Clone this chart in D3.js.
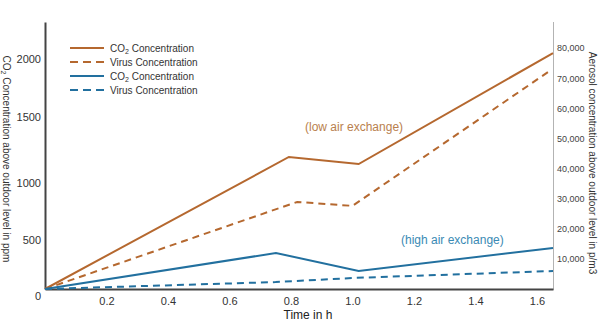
<!DOCTYPE html>
<html><head><meta charset="utf-8">
<script src="https://cdn.jsdelivr.net/npm/d3@7"></script>
<style>body{margin:0;background:#fff;} text{font-family:Arial,"Liberation Sans",sans-serif;}</style>
</head><body>
<svg id="c" width="605" height="323"></svg>
<script>
// data
const xTicks = [0.2,0.4,0.6,0.8,1.0,1.2,1.4,1.6];
const leftTicks = [0,500,1000,1500,2000];
const rightTicks = [10000,20000,30000,40000,50000,60000,70000,80000];
const lowCO2T = [0, 0.793, 1.02, 1.652];
const lowCO2V = [0, 1148, 1087, 2052];
const lowVirusT = [0, 0.82, 1.0, 1.64];
const lowVirusV = [0, 28900, 27600, 72300];
const highCO2T = [0, 0.751, 1.02, 1.652];
const highCO2V = [0, 313, 157, 357];
const highVirusT = [0, 0.75, 1.0, 1.652];
const highVirusV = [0, 2300, 3650, 5975];
const legendLabels = ["CO₂ Concentration","Virus Concentration","CO₂ Concentration","Virus Concentration"];

const ORANGE = "#b5682f", BLUE = "#22709f";
const svg = d3.select("#c");
const x = d3.scaleLinear().domain([0,1.652]).range([45,553]);
const yL = d3.scaleLinear().domain([0,2322]).range([289,22]);
const yR = d3.scaleLinear().domain([0,88630]).range([289,22]);

// axes
const gx = svg.append("g").attr("transform","translate(0,289)")
  .call(d3.axisBottom(x).tickValues(xTicks).tickFormat(d3.format(".1f")).tickSize(0).tickPadding(8));
gx.select(".domain").attr("stroke","#444").attr("stroke-width",2);
gx.selectAll("text").attr("font-size",11).attr("fill","#333");

const gl = svg.append("g").attr("transform","translate(45,0)")
  .call(d3.axisLeft(yL).tickValues(leftTicks).tickFormat(d3.format("d")).tickSize(0).tickPadding(4));
gl.select(".domain").attr("stroke","#444").attr("stroke-width",2);
gl.selectAll("text").attr("font-size",11).attr("fill","#333").attr("dy", (d)=> d===0 ? "0.95em" : (d===500||d===1000 ? "1.1em":"0.32em"));

const gr = svg.append("g").attr("transform","translate(553,0)")
  .call(d3.axisRight(yR).tickValues(rightTicks).tickFormat(d3.format(",")).tickSize(0).tickPadding(4));
gr.select(".domain").attr("stroke","#666").attr("stroke-width",1).attr("stroke-dasharray","1,1");
gr.selectAll("text").attr("font-size",9).attr("fill","#444");

// titles
svg.append("text").attr("x",308).attr("y",319).attr("text-anchor","middle")
  .attr("font-size",12).attr("fill","#222").text("Time in h");
const lt = svg.append("text").attr("transform","translate(3,159) rotate(90)")
  .attr("text-anchor","middle").attr("font-size",10).attr("fill","#333");
lt.append("tspan").text("CO");
lt.append("tspan").attr("font-size",7).attr("dy",2).text("2");
lt.append("tspan").attr("dy",-2).text(" Concentration above  outdoor level in ppm");
svg.append("text").attr("transform","translate(589,163) rotate(90)")
  .attr("text-anchor","middle").attr("font-size",10).attr("fill","#333")
  .text("Aerosol concentration above  outdoor level in p/m3");

// lines
function draw(ts, vs, ys, color, dashed){
  const pts = ts.map((t,i)=>[t,vs[i]]);
  svg.append("path").datum(pts)
    .attr("d", d3.line().x(d=>x(d[0])).y(d=>ys(d[1])))
    .attr("fill","none").attr("stroke",color).attr("stroke-width",2)
    .attr("stroke-dasharray", dashed ? "7,5" : null);
}
draw(lowCO2T, lowCO2V, yL, ORANGE, false);
draw(lowVirusT, lowVirusV, yR, ORANGE, true);
draw(highCO2T, highCO2V, yL, BLUE, false);
draw(highVirusT, highVirusV, yR, BLUE, true);

// legend
const lcolors = [ORANGE,ORANGE,BLUE,BLUE];
const ldash = [false,true,false,true];
legendLabels.forEach((lab,i)=>{
  const yy = 48 + i*14;
  svg.append("line").attr("x1",70).attr("x2",104).attr("y1",yy).attr("y2",yy)
    .attr("stroke",lcolors[i]).attr("stroke-width",2).attr("stroke-dasharray", ldash[i]?"8,5":null);
  const t = svg.append("text").attr("x",110).attr("y",yy+3.5).attr("font-size",10).attr("fill","#333");
  if (lab.startsWith("CO₂")) {
    t.append("tspan").text("CO");
    t.append("tspan").attr("font-size",7).attr("dy",2).text("2");
    t.append("tspan").attr("dy",-2).text(" Concentration");
  } else t.text(lab);
});

// annotations
svg.append("text").attr("x",305).attr("y",131).attr("font-size",12).attr("fill","#b97f4e").text("(low air exchange)");
svg.append("text").attr("x",401).attr("y",244).attr("font-size",12).attr("fill","#3a8ab4").text("(high air exchange)");
</script>
</body></html>
